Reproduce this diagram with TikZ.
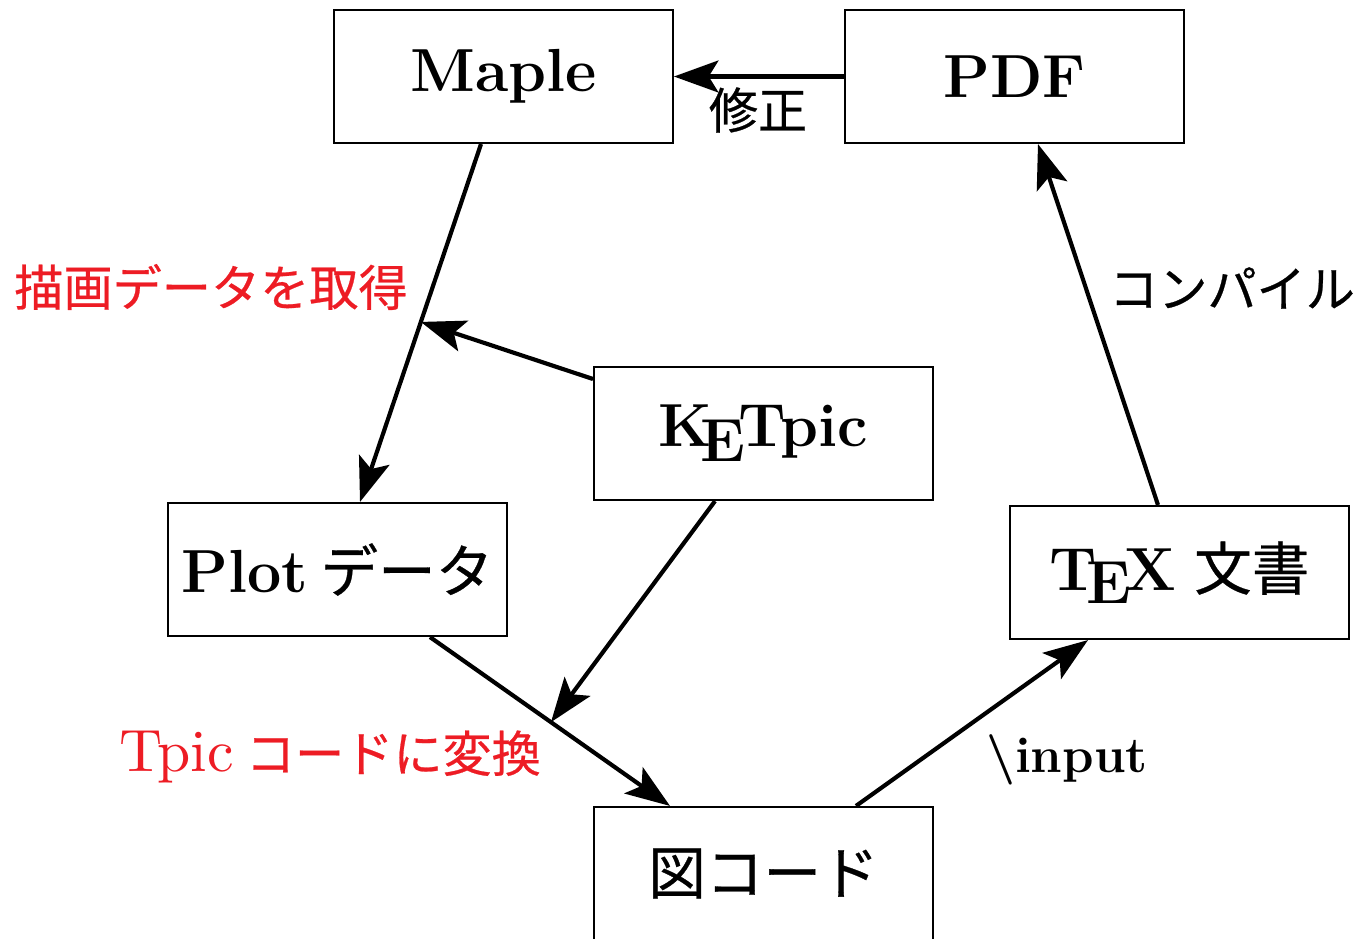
\documentclass[tikz,border=0pt]{standalone}
\usepackage{fontspec}
\newfontfamily\jp[FakeBold=0.5]{Noto Sans CJK JP}
\newfontfamily\lmten{lmroman10-regular.otf}
\usetikzlibrary{arrows.meta,calc}
\definecolor{lblred}{RGB}{237,28,36}
\newcommand\KETlogo{K\kern-.2em\lower.55ex\hbox{E}\kern-.1em Tpic}
\begin{document}
\begin{tikzpicture}[x=0.36pt,y=-0.36pt,
  box/.style={draw,line width=0.75pt,minimum width=122pt,minimum height=47.9pt,inner sep=0pt,font=\fontsize{21.9}{26}\selectfont\bfseries},
  conn/.style={line width=1.5pt,-{Stealth[length=16pt,width=11.5pt,inset=3.5pt]}},
  lbl/.style={font=\fontsize{17.7}{21}\selectfont,inner sep=0pt}]
\useasboundingbox (0,0) rectangle (1357,939);
\node[box] (maple) at (503.5,76.5) {Maple};
\node[box] (pdf) at (1014.5,76.5) {PDF};
\node[box] (ketpic) at (763.5,433.5) {\KETlogo};
\node[box] (plot) at (337.5,569.5) {Plot\hspace{0.2em}{\jp\mdseries\fontsize{20.74}{25}\selectfont データ}};
\node[box] (tex) at (1179.5,572.5) {\TeX\hspace{0.3em}{\jp\mdseries\fontsize{20.74}{25}\selectfont 文書}};
\node[box] (fig) at (763.5,873.5) {\jp\mdseries\fontsize{20.74}{25}\selectfont 図コード};

\coordinate (m1) at ($(maple.south)+(-22.5,0)$);
\coordinate (p1) at ($(plot.north)+(22.5,0)$);
\coordinate (j1) at ($(m1)!0.497!(p1)$);
\coordinate (p2) at ($(plot.south)+(92.5,0)$);
\coordinate (f1) at ($(fig.north)+(-93.5,0)$);
\coordinate (j2) at ($(p2)!0.504!(f1)$);
\coordinate (k1) at ($(ketpic.west)+(0,-54.5)$);
\coordinate (k2) at ($(ketpic.south)+(-48.5,0)$);
\coordinate (f2) at ($(fig.north)+(92.5,0)$);
\coordinate (t1) at ($(tex.south)+(-91.5,0)$);
\coordinate (t2) at ($(tex.north)+(-21.5,0)$);
\coordinate (d1) at ($(pdf.south)+(23.5,0)$);

\draw[conn] (pdf.west) -- (maple.east);
\draw[conn] (m1) -- (p1);
\draw[conn] (k1) -- (j1);
\draw[conn] (p2) -- (f1);
\draw[conn] (k2) -- (j2);
\draw[conn] (f2) -- (t1);
\draw[conn] (t2) -- (d1);

\node[lbl] (shusei) at (758,110) {\jp 修正};
\node[lbl,text=lblred] (byoga) at (211,287) {\jp 描画データを取得};
\node[lbl] (compile) at (1232,288) {\jp コンパイル};
\node[lbl,text=lblred] (tpic) at (330,757) {{\lmten\fontsize{21.5}{26}\selectfont Tpic}\hspace{0.25em}{\jp コードに変換}};
\node[lbl,font=\fontsize{18.2}{22}\selectfont\bfseries] (inp) at (1067,760) {\textbackslash input};
\end{tikzpicture}
\end{document}
